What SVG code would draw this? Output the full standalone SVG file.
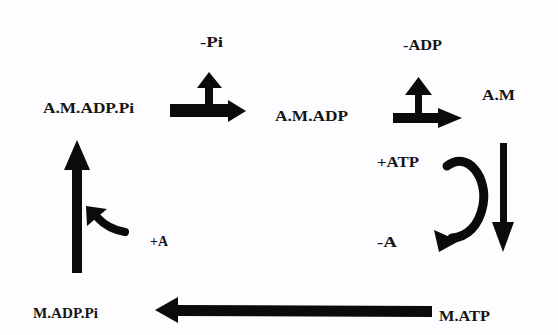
<svg xmlns="http://www.w3.org/2000/svg" width="558" height="335" viewBox="0 0 558 335">
  <style>
    .lbl { font-family: "Liberation Serif", "Times New Roman", serif; font-weight: bold; font-size: 14px; fill: #151515; }
    .fill { fill: #0b0b0b; stroke: none; }
    .curve { fill: none; stroke: #0b0b0b; stroke-linecap: round; }
  </style>
  <rect x="0" y="0" width="558" height="335" fill="#fdfcfe"/>

  <!-- states of the cycle -->
  <g id="node-am-adp-pi"><text class="lbl" x="43" y="113" textLength="91" lengthAdjust="spacingAndGlyphs">A.M.ADP.Pi</text></g>
  <g id="node-am-adp"><text class="lbl" x="275" y="121" textLength="73" lengthAdjust="spacingAndGlyphs">A.M.ADP</text></g>
  <g id="node-am"><text class="lbl" x="482" y="100" textLength="33" lengthAdjust="spacingAndGlyphs">A.M</text></g>
  <g id="node-m-atp"><text class="lbl" x="439" y="321" textLength="51" lengthAdjust="spacingAndGlyphs">M.ATP</text></g>
  <g id="node-m-adp-pi"><text class="lbl" x="33" y="318" textLength="65" lengthAdjust="spacingAndGlyphs">M.ADP.Pi</text></g>

  <!-- reaction labels -->
  <g id="label-minus-pi"><text class="lbl" x="200" y="47" textLength="23" lengthAdjust="spacingAndGlyphs">-Pi</text></g>
  <g id="label-minus-adp"><text class="lbl" x="403" y="50" textLength="39" lengthAdjust="spacingAndGlyphs">-ADP</text></g>
  <g id="label-plus-atp"><text class="lbl" x="377" y="167" textLength="42" lengthAdjust="spacingAndGlyphs">+ATP</text></g>
  <g id="label-minus-a"><text class="lbl" x="377" y="247" textLength="20" lengthAdjust="spacingAndGlyphs">-A</text></g>
  <g id="label-plus-a"><text class="lbl" x="150" y="246" textLength="18" lengthAdjust="spacingAndGlyphs">+A</text></g>

  <g id="connectors">
    <!-- A.M.ADP.Pi -> A.M.ADP, releasing Pi -->
    <rect class="fill" x="170" y="104" width="60" height="13"/>
    <polygon class="fill" points="228,100 246,111 228,122"/>
    <rect class="fill" x="205" y="86" width="8" height="20"/>
    <polygon class="fill" points="197,88 209,72 222,88"/>

    <!-- A.M.ADP -> A.M, releasing ADP -->
    <rect class="fill" x="393" y="113" width="47" height="10"/>
    <polygon class="fill" points="438,108 462,118 438,128"/>
    <rect class="fill" x="415" y="93" width="7" height="21"/>
    <polygon class="fill" points="405,95 418.5,77 432,95"/>

    <!-- A.M -> M.ATP -->
    <rect class="fill" x="500" y="143" width="7" height="81"/>
    <polygon class="fill" points="492,222 514,222 503,252"/>

    <!-- ATP binding / actin release -->
    <path class="curve" stroke-width="9" d="M447,166 C468,150 488,178 483,205 C479,226 467,237 452,238"/>
    <polygon class="fill" points="439,252 434,230 459,241"/>

    <!-- M.ATP -> M.ADP.Pi -->
    <polygon class="fill" points="176,305 432,306 432,317 176,316"/>
    <polygon class="fill" points="155,310 178,297 178,323"/>

    <!-- M.ADP.Pi -> A.M.ADP.Pi -->
    <rect class="fill" x="72" y="166" width="10" height="107"/>
    <polygon class="fill" points="64,170 77,140 90,170"/>

    <!-- actin binding -->
    <path class="curve" stroke-width="8" d="M125,232 Q108,229 98,218"/>
    <polygon class="fill" points="86,206 87,226 107,209"/>
  </g>
</svg>
